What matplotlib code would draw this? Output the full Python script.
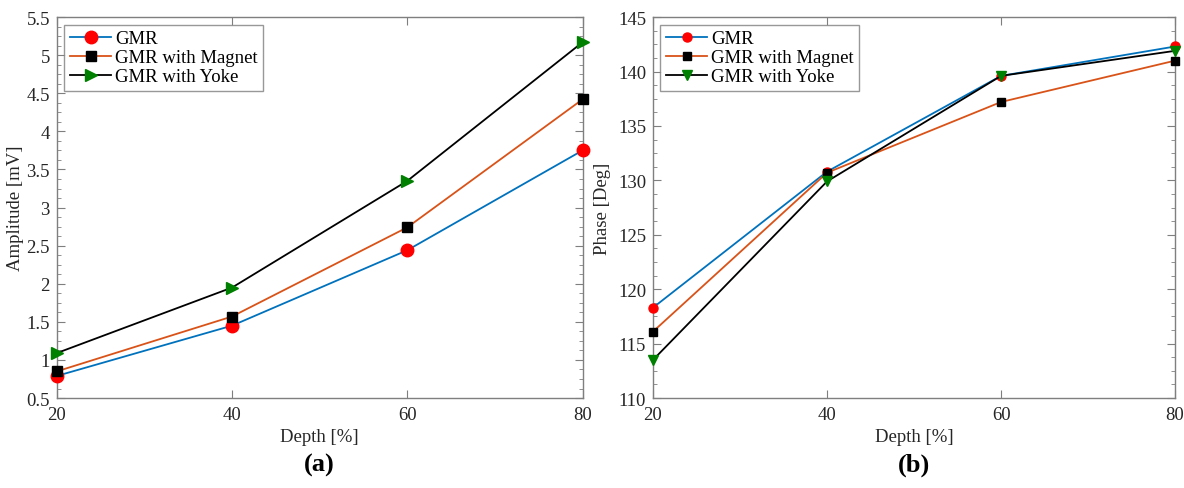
import matplotlib.pyplot as plt
from matplotlib.ticker import AutoMinorLocator, MultipleLocator

plt.rcParams['font.family'] = ['Liberation Serif', 'DejaVu Serif']

depth = [20, 40, 60, 80]

amp_gmr = [0.79, 1.45, 2.44, 3.75]
amp_magnet = [0.85, 1.57, 2.74, 4.42]
amp_yoke = [1.09, 1.95, 3.35, 5.17]

phase_gmr = [118.3, 130.8, 139.6, 142.3]
phase_magnet = [116.1, 130.7, 137.2, 141.0]
phase_yoke = [113.5, 129.9, 139.6, 141.9]

labels = ['GMR', 'GMR with Magnet', 'GMR with Yoke']
blue = '#0072BD'
orange = '#D95319'
green = '#008000'
grey = '#7f7f7f'

fig = plt.figure(figsize=(11.84, 4.89), dpi=100)
ax1 = fig.add_axes([0.048, 0.184, 0.444, 0.779])
ax2 = fig.add_axes([0.5515, 0.184, 0.441, 0.779])


def style(ax):
    for s in ax.spines.values():
        s.set_color(grey)
        s.set_linewidth(1.0)
    ax.tick_params(which='both', direction='in', top=True, right=True,
                   color=grey, labelsize=13.5, labelcolor='#262626')
    ax.tick_params(which='major', length=6)
    ax.tick_params(which='minor', length=3)
    ax.tick_params(axis='x', which='minor', top=False, bottom=False)
    ax.tick_params(axis='x', pad=6)
    ax.tick_params(axis='y', pad=5)
    ax.set_xlim(20, 80)
    ax.xaxis.set_major_locator(MultipleLocator(20))
    ax.yaxis.set_minor_locator(AutoMinorLocator(4))
    ax.set_xlabel('Depth [%]', fontsize=13.5, color='#262626', labelpad=3)


# (a) amplitude
ax1.plot(depth, amp_gmr, '-o', color=blue, mfc='red', mec='red', ms=9, lw=1.3, label=labels[0], clip_on=False, zorder=10)
ax1.plot(depth, amp_magnet, '-s', color=orange, mfc='black', mec='black', ms=7.5, lw=1.3, label=labels[1], clip_on=False, zorder=10)
ax1.plot(depth, amp_yoke, '->', color='black', mfc=green, mec=green, ms=9, lw=1.3, label=labels[2], clip_on=False, zorder=10)
ax1.set_ylim(0.5, 5.5)
ax1.set_yticks([0.5, 1, 1.5, 2, 2.5, 3, 3.5, 4, 4.5, 5, 5.5])
ax1.set_yticklabels(['0.5', '1', '1.5', '2', '2.5', '3', '3.5', '4', '4.5', '5', '5.5'])
ax1.set_ylabel('Amplitude [mV]', fontsize=13.5, color='#262626', labelpad=2)
style(ax1)
leg = ax1.legend(loc='upper left', fontsize=13.5, fancybox=False, edgecolor=grey,
                 handlelength=2.2, borderpad=0.3, labelspacing=0.1, handletextpad=0.2,
                 borderaxespad=0.4)
leg.get_frame().set_linewidth(1.0)
leg.set_zorder(20)

# (b) phase
ax2.plot(depth, phase_gmr, '-o', color=blue, mfc='red', mec='red', ms=6.5, lw=1.3, label=labels[0], clip_on=False, zorder=10)
ax2.plot(depth, phase_magnet, '-s', color=orange, mfc='black', mec='black', ms=5.5, lw=1.3, label=labels[1], clip_on=False, zorder=10)
ax2.plot(depth, phase_yoke, '-v', color='black', mfc=green, mec=green, ms=7, lw=1.3, label=labels[2], clip_on=False, zorder=10)
ax2.set_ylim(110, 145)
ax2.yaxis.set_major_locator(MultipleLocator(5))
ax2.set_ylabel('Phase [Deg]', fontsize=13.5, color='#262626', labelpad=5)
style(ax2)
leg = ax2.legend(loc='upper left', fontsize=13.5, fancybox=False, edgecolor=grey,
                 handlelength=2.2, borderpad=0.3, labelspacing=0.1, handletextpad=0.2,
                 borderaxespad=0.4)
leg.get_frame().set_linewidth(1.0)
leg.set_zorder(20)

fig.text(0.27, 0.035, '(a)', fontsize=19, fontweight='bold', ha='center')
fig.text(0.772, 0.035, '(b)', fontsize=19, fontweight='bold', ha='center')

fig.savefig('out.png', dpi=100)
